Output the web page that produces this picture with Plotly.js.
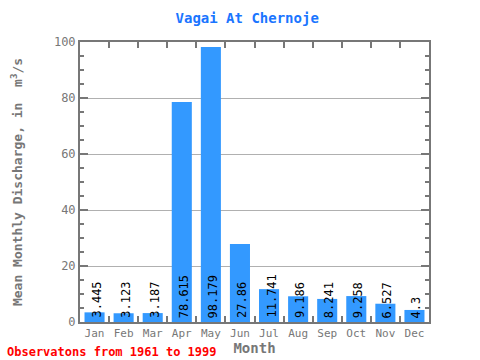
<!DOCTYPE html>
<html><head><meta charset="utf-8">
<script src="https://cdn.plot.ly/plotly-3.0.1.min.js"></script>
<style>body{margin:0;padding:0;}#chart{width:480px;height:360px;}</style>
</head><body><div id="chart"></div>
<script>
const months = ["Jan","Feb","Mar","Apr","May","Jun","Jul","Aug","Sep","Oct","Nov","Dec"];
const discharge = [3.445, 3.123, 3.187, 78.615, 98.179, 27.86, 11.741, 9.186, 8.241, 9.258, 6.527, 4.3];
const labels = ["3.445","3.123","3.187","78.615","98.179","27.86","11.741","9.186","8.241","9.258","6.527","4.3"];

const mono = "DejaVu Sans Mono, monospace";
const gray = "#777777";

const annotations = months.map((m, i) => ({
  x: m, y: 0, xref: "x", yref: "y",
  text: labels[i], textangle: -90, showarrow: false,
  xanchor: "center", yanchor: "bottom", yshift: 2, xshift: 2,
  font: {family: mono, size: 12, color: "#000"}
}));
annotations.push({
  xref: "paper", yref: "paper", x: -0.215, y: -0.107, xanchor: "left", yanchor: "middle",
  text: "Observatons from 1961 to 1999", showarrow: false,
  font: {family: mono, size: 12, color: "#ff0000", weight: "bold"}
});

const trace = {
  type: "bar", x: months, y: discharge,
  marker: {color: "#3399ff"}, hoverinfo: "none"
};

const layout = {
  width: 480, height: 360,
  margin: {l: 80, r: 51, t: 42, b: 38},
  paper_bgcolor: "#fff", plot_bgcolor: "#fff",
  bargap: 0.31,
  showlegend: false,
  title: {text: "Vagai At Chernoje", x: 0.515, xanchor: "center", y: 0.95, yanchor: "middle",
    font: {family: mono, size: 14, color: "#1a75ff", weight: "bold"}},
  xaxis: {
    type: "category", showline: true, linecolor: gray, linewidth: 2, mirror: "ticks",
    ticks: "inside", ticklen: 6, tickcolor: gray, tickwidth: 2, tickson: "boundaries",
    tickangle: 0,
    tickfont: {family: mono, size: 11, color: gray},
    title: {text: "Month", font: {family: mono, size: 14, color: gray, weight: "bold"}, standoff: 0},
    showgrid: false, fixedrange: true
  },
  yaxis: {
    range: [0, 100], showline: true, linecolor: gray, linewidth: 2, mirror: "ticks",
    ticks: "inside", ticklen: 8, tickcolor: gray, tickwidth: 2, dtick: 20,
    tickfont: {family: mono, size: 12, color: gray},
    minor: {dtick: 5, ticks: "inside", ticklen: 4, tickcolor: gray, tickwidth: 2, showgrid: false},
    showgrid: true, gridcolor: "#b0b0b0", gridwidth: 1, zeroline: false,
    title: {text: "Mean Monthly Discharge, in  m<sup>3</sup>/s", font: {family: mono, size: 13, color: gray, weight: "bold"}, standoff: 28},
    fixedrange: true
  },
  annotations: annotations
};

Plotly.newPlot("chart", [trace], layout, {displayModeBar: false, staticPlot: true});
</script></body></html>
